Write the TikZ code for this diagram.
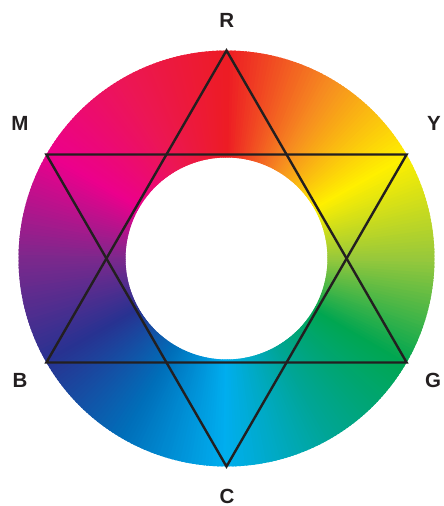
\documentclass[tikz,border=0pt]{standalone}
\usepackage{xcolor}
\usepackage{fontspec}
\usepackage{tikz}

\newfontfamily\wheelfont{Liberation Sans}

\definecolor{wR}{RGB}{237,28,36}
\definecolor{wO}{RGB}{246,140,32}
\definecolor{wY}{RGB}{255,240,0}
\definecolor{wYG}{RGB}{150,200,60}
\definecolor{wG}{RGB}{0,166,81}
\definecolor{wT}{RGB}{0,165,150}
\definecolor{wC}{RGB}{0,174,239}
\definecolor{wBl}{RGB}{0,110,185}
\definecolor{wB}{RGB}{40,50,145}
\definecolor{wV}{RGB}{125,40,140}
\definecolor{wM}{RGB}{236,0,140}
\definecolor{wRm}{RGB}{236,22,85}
\definecolor{inkline}{RGB}{35,31,32}

\begin{document}
\begin{tikzpicture}[x=1pt,y=1pt,
    vertexlabel/.style={font=\wheelfont\bfseries\fontsize{20.5}{24}\selectfont,
        text=inkline, inner sep=0pt, text height=14.7pt, text depth=0pt},
    starline/.style={draw=inkline, line width=2.4pt, line join=miter}]
    \useasboundingbox (-226.5,-247.5) rectangle (217.5,258.5);

    % colour ring, 1 degree wedges
    \foreach \a/\ca/\cb in {90/wR/wO, 60/wO/wY, 30/wY/wYG, 0/wYG/wG,
                            -30/wG/wT, -60/wT/wC, -90/wC/wBl, -120/wBl/wB,
                            -150/wB/wV, -180/wV/wM, -210/wM/wRm, -240/wRm/wR}
        \foreach \k in {0,...,29}{
            \pgfmathtruncatemacro\p{100-\k*10/3}
            \pgfmathsetmacro\s{\a-\k}
            \pgfmathsetmacro\e{\a-\k-1.6}
            \fill[\ca!\p!\cb] (\s:208) arc[start angle=\s, end angle=\e, radius=208]
                -- (\e:101) arc[start angle=\e, end angle=\s, radius=101] -- cycle;
        }

    % star corners
    \foreach \n/\ang in {R/90, Y/30, G/-30, C/-90, B/-150, M/150}
        \coordinate (v\n) at (\ang:208);

    \draw[starline] (vR) -- (vG) -- (vB) -- cycle;
    \draw[starline] (vC) -- (vM) -- (vY) -- cycle;

    \node[vertexlabel] (lR) at (0.2,238.5) {R};
    \node[vertexlabel] (lY) at (207.5,135.5) {Y};
    \node[vertexlabel] (lG) at (206.5,-121.5) {G};
    \node[vertexlabel] (lC) at (0.5,-237.3) {C};
    \node[vertexlabel] (lB) at (-206.5,-121.5) {B};
    \node[vertexlabel] (lM) at (-206.5,135.5) {M};
\end{tikzpicture}
\end{document}
